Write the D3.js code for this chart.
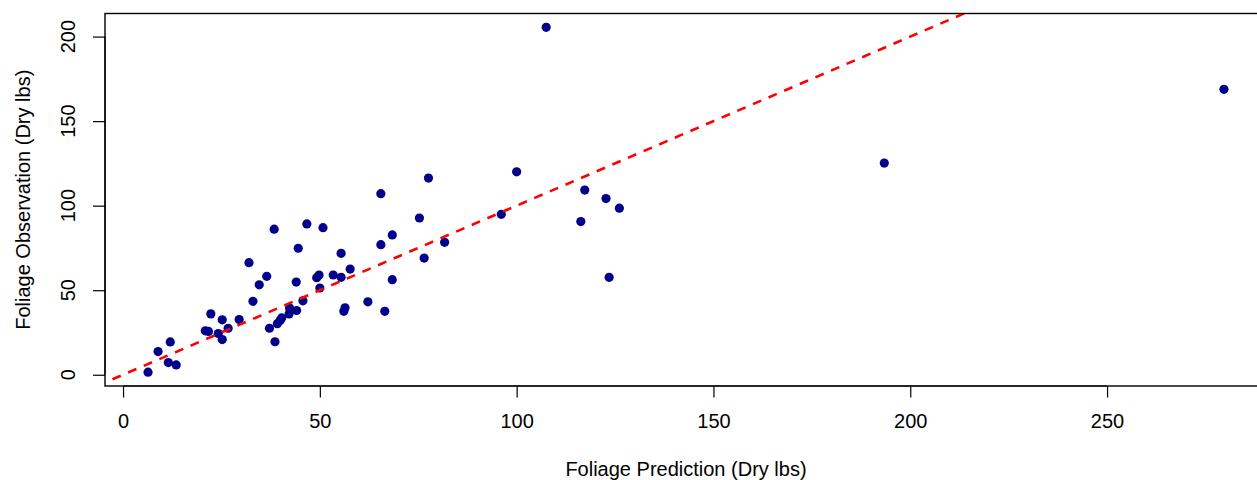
<!DOCTYPE html>
<html>
<head>
<meta charset="utf-8">
<script src="https://cdn.jsdelivr.net/npm/d3@7"></script>
<style>
  html, body { margin: 0; padding: 0; background: #fff; }
  svg { display: block; font-family: "Liberation Sans", Arial, sans-serif; }
</style>
</head>
<body>
<div id="chart"></div>
<script>
// Data: foliage predicted vs observed (dry lbs)
const predicted = [6.35, 8.9, 12.0, 11.5, 13.5, 20.9, 21.7, 22.3, 24.2, 25.2,
  25.2, 26.7, 29.5, 32.0, 33.0, 34.6, 36.5, 37.2, 38.6, 38.4,
  39.2, 39.9, 40.3, 42.2, 42.3, 44.1, 44.0, 44.5, 45.7, 46.7,
  50.8, 68.4, 65.5, 81.7, 55.4, 76.5, 57.7, 49.8, 49.2, 53.4,
  55.4, 68.4, 50.0, 56.4, 56.1, 62.2, 66.5, 77.6, 65.5, 75.3,
  107.5, 100.0, 96.1, 117.3, 122.7, 126.1, 116.3, 123.5, 193.4, 279.7];
const observed = [1.5, 13.7, 19.4, 7.2, 5.8, 26.0, 25.6, 36.0, 24.4, 32.5,
  20.8, 27.5, 32.6, 66.3, 43.4, 53.2, 58.2, 27.5, 19.5, 86.1,
  30.2, 32.1, 33.6, 36.0, 39.5, 38.0, 54.8, 74.8, 43.7, 89.2,
  87.0, 82.7, 76.9, 78.3, 71.8, 69.0, 62.5, 59.0, 57.4, 59.0,
  57.6, 56.2, 51.3, 39.6, 37.5, 43.1, 37.5, 116.3, 107.1, 92.7,
  205.5, 120.0, 94.9, 109.2, 104.2, 98.5, 90.6, 57.6, 125.2, 168.8];
const xTicks = [0, 50, 100, 150, 200, 250];
const yTicks = [0, 50, 100, 150, 200];
const xLabel = "Foliage Prediction (Dry lbs)";
const yLabel = "Foliage Observation (Dry lbs)";

const W = 1257, H = 480;
const plot = { left: 105, right: 1267, top: 13.5, bottom: 386 };

// R-style 4% axis extension
const xmin = d3.min(predicted), xmax = d3.max(predicted);
const ymin = d3.min(observed), ymax = d3.max(observed);
const xe = (xmax - xmin) * 0.04, ye = (ymax - ymin) * 0.04;
const x = d3.scaleLinear().domain([xmin - xe, xmax + xe]).range([plot.left, plot.right]);
const y = d3.scaleLinear().domain([ymin - ye, ymax + ye]).range([plot.bottom, plot.top]);

const svg = d3.select("#chart").append("svg").attr("width", W).attr("height", H);

svg.append("defs").append("clipPath").attr("id", "clip")
  .append("rect").attr("x", plot.left).attr("y", plot.top)
  .attr("width", plot.right - plot.left).attr("height", plot.bottom - plot.top);

// Points
svg.append("g").selectAll("circle").data(predicted).join("circle")
  .attr("cx", (d) => x(d))
  .attr("cy", (d, i) => y(observed[i]))
  .attr("r", 4.6)
  .attr("fill", "#00008B");

// 1:1 line
const lineDomain = [x.domain()[0] - 10, x.domain()[1] + 10];
svg.append("line")
  .attr("clip-path", "url(#clip)")
  .attr("x1", x(lineDomain[0])).attr("y1", y(lineDomain[0]))
  .attr("x2", x(lineDomain[1])).attr("y2", y(lineDomain[1]))
  .attr("stroke", "#FF0000").attr("stroke-width", 2.6)
  .attr("stroke-dasharray", "9,8");

// Box
svg.append("rect")
  .attr("x", plot.left).attr("y", plot.top)
  .attr("width", plot.right - plot.left).attr("height", plot.bottom - plot.top)
  .attr("fill", "none").attr("stroke", "#000").attr("stroke-width", 1.4);

// X axis
const xAxis = d3.axisBottom(x).tickValues(xTicks).tickSize(11.5).tickPadding(16).tickSizeOuter(0);
const gx = svg.append("g").attr("transform", `translate(0,${plot.bottom})`).call(xAxis);
gx.select(".domain").attr("d", `M${x(xTicks[0])},0H${x(xTicks[xTicks.length-1])}`).attr("stroke-width", 1.2);
gx.selectAll(".tick line").attr("stroke-width", 1.2);
gx.selectAll("text").attr("font-size", 20).attr("fill", "#000")
  .attr("font-family", "'Liberation Sans', Arial, sans-serif");

// Y axis (ticks from d3, labels placed manually, rotated like R)
const yAxis = d3.axisLeft(y).tickValues(yTicks).tickSize(12).tickFormat("").tickSizeOuter(0);
const gy = svg.append("g").attr("transform", `translate(${plot.left},0)`).call(yAxis);
gy.select(".domain").attr("d", `M0,${y(yTicks[0])}V${y(yTicks[yTicks.length-1])}`).attr("stroke-width", 1.2);
gy.selectAll(".tick line").attr("stroke-width", 1.2);
svg.append("g").selectAll("text").data(yTicks).join("text")
  .attr("transform", (d) => `translate(75,${y(d)}) rotate(-90)`)
  .attr("text-anchor", "middle")
  .attr("font-size", 20).attr("fill", "#000")
  .text((d) => d);

// Axis titles
svg.append("text")
  .attr("x", (plot.left + plot.right) / 2).attr("y", 476)
  .attr("text-anchor", "middle").attr("font-size", 20).attr("fill", "#000")
  .text(xLabel);
svg.append("text")
  .attr("transform", `translate(30,${(plot.top + plot.bottom) / 2}) rotate(-90)`)
  .attr("text-anchor", "middle").attr("font-size", 20).attr("fill", "#000")
  .text(yLabel);
</script>
</body>
</html>
